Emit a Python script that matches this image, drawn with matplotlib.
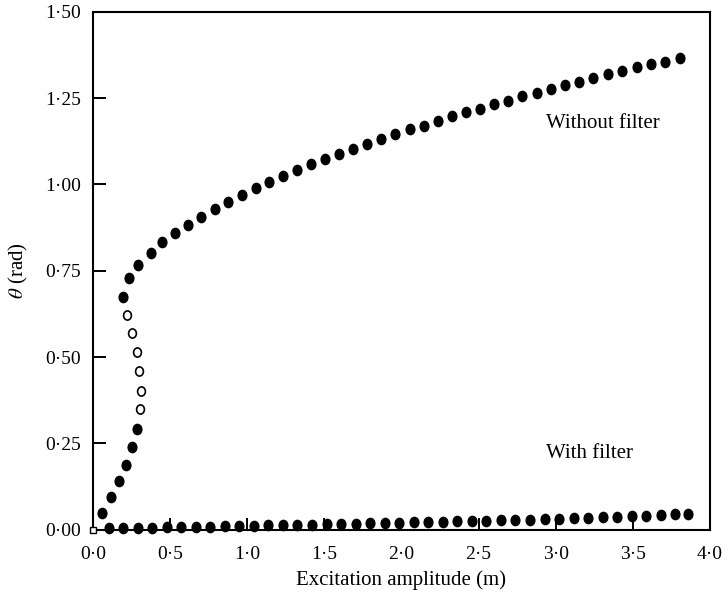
import matplotlib
matplotlib.use("Agg")
import matplotlib.pyplot as plt
from matplotlib.markers import MarkerStyle
from matplotlib.transforms import Affine2D

plt.rcParams['font.family'] = ['Liberation Serif', 'DejaVu Serif']
plt.rcParams['mathtext.fontset'] = 'stix'

# ---- data ----
# Without filter: stable lower branch (filled)
nf_low_x = [0.060, 0.115, 0.167, 0.214, 0.251, 0.285]
nf_low_y = [0.047, 0.093, 0.141, 0.187, 0.238, 0.290]
# Without filter: unstable branch (open)
nf_unst_x = [0.305, 0.311, 0.298, 0.283, 0.251, 0.218]
nf_unst_y = [0.348, 0.401, 0.459, 0.514, 0.569, 0.622]
# Without filter: upper stable branch (filled)
nf_up_x = [0.196, 0.233, 0.294, 0.374, 0.445, 0.531, 0.618, 0.700, 0.791, 0.877,
           0.968, 1.055, 1.141, 1.234, 1.325, 1.414, 1.504, 1.594, 1.687, 1.778,
           1.868, 1.956, 2.052, 2.145, 2.235, 2.328, 2.415, 2.509, 2.600, 2.692,
           2.780, 2.876, 2.969, 3.060, 3.153, 3.243, 3.338, 3.432, 3.525, 3.618,
           3.709, 3.806]
nf_up_y = [0.675, 0.728, 0.767, 0.800, 0.833, 0.859, 0.883, 0.905, 0.928, 0.948,
           0.970, 0.989, 1.006, 1.025, 1.042, 1.059, 1.073, 1.088, 1.103, 1.117,
           1.132, 1.146, 1.160, 1.170, 1.185, 1.197, 1.209, 1.219, 1.232, 1.242,
           1.255, 1.264, 1.277, 1.288, 1.298, 1.310, 1.319, 1.330, 1.340, 1.349,
           1.356, 1.366]
# With filter (filled)
wf_x = [0.102, 0.196, 0.290, 0.384, 0.479, 0.573, 0.667, 0.761, 0.855, 0.950,
        1.044, 1.138, 1.232, 1.326, 1.421, 1.515, 1.609, 1.703, 1.797, 1.892,
        1.986, 2.080, 2.174, 2.268, 2.362, 2.457, 2.551, 2.645, 2.739, 2.833,
        2.928, 3.022, 3.116, 3.210, 3.304, 3.399, 3.493, 3.587, 3.681, 3.775,
        3.860]
wf_y = [0.004, 0.004, 0.005, 0.005, 0.006, 0.007, 0.008, 0.008, 0.009, 0.010,
        0.011, 0.012, 0.013, 0.013, 0.014, 0.015, 0.016, 0.017, 0.018, 0.019,
        0.020, 0.021, 0.022, 0.023, 0.024, 0.025, 0.026, 0.027, 0.028, 0.029,
        0.030, 0.031, 0.032, 0.034, 0.035, 0.036, 0.038, 0.040, 0.042, 0.044,
        0.046]
origin_x = [0.0]
origin_y = [0.0]

xticks = [0.0, 0.5, 1.0, 1.5, 2.0, 2.5, 3.0, 3.5, 4.0]
xticklabels = ['0·0', '0·5', '1·0', '1·5', '2·0', '2·5', '3·0', '3·5', '4·0']
yticks = [0.0, 0.25, 0.5, 0.75, 1.0, 1.25, 1.5]
yticklabels = ['0·00', '0·25', '0·50', '0·75', '1·00', '1·25', '1·50']

fig = plt.figure(figsize=(7.26, 5.97), dpi=100)
ax = fig.add_axes([0.128, 0.113, 0.850, 0.867])

dot = MarkerStyle('o', transform=Affine2D().scale(0.85, 1.0))
ms = 7.4
ax.plot(nf_low_x, nf_low_y, ls='none', marker=dot, ms=ms, color='black', zorder=3)
ax.plot(nf_unst_x, nf_unst_y, ls='none', marker=dot, ms=ms - 0.8, mfc='white', mec='black', mew=1.2, zorder=3)
ax.plot(nf_up_x, nf_up_y, ls='none', marker=dot, ms=ms, color='black', zorder=3)
ax.plot(wf_x, wf_y, ls='none', marker=dot, ms=ms, color='black', zorder=3, clip_on=False)
ax.plot(origin_x, origin_y, ls='none', marker='s', ms=5, mfc='white', mec='black', mew=1.0,
        zorder=4, clip_on=False)

ax.set_xlim(0, 4.0)
ax.set_ylim(0, 1.5)
ax.set_xticks(xticks)
ax.set_xticklabels(xticklabels)
ax.set_yticks(yticks)
ax.set_yticklabels(yticklabels)
ax.tick_params(direction='in', length=9, width=1.4, labelsize=14, top=False, right=False)
ax.tick_params(axis='x', pad=12)
ax.tick_params(axis='y', pad=8.5)
for s in ax.spines.values():
    s.set_linewidth(1.5)

ax.set_xlabel('Excitation amplitude (m)', fontsize=15, labelpad=5)
ax.set_ylabel(r'$\theta$ (rad)', fontsize=15, labelpad=11)

ax.text(2.935, 1.177, 'Without filter', fontsize=15, ha='left', va='center')
ax.text(2.94, 0.220, 'With filter', fontsize=15, ha='left', va='center')

fig.savefig('out.png', dpi=100)
